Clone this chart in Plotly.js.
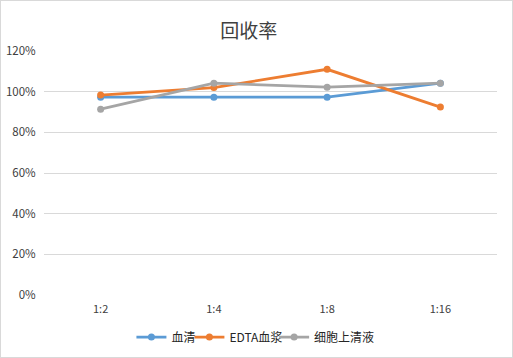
<!DOCTYPE html>
<html><head><meta charset="utf-8">
<script src="https://cdn.plot.ly/plotly-3.0.1.min.js"></script>
<style>html,body{margin:0;padding:0;background:#fff}#c{width:511px;height:356px;border:1px solid #d9d9d9}</style>
</head><body><div id="c"></div>
<script>
const categories = ['1:2','1:4','1:8','1:16'];
const serumVals = [0.973, 0.973, 0.973, 1.042];
const edtaVals = [0.983, 1.02, 1.11, 0.924];
const cellVals = [0.914, 1.042, 1.022, 1.042];
const seriesNames = ['血清','EDTA血浆','细胞上清液'];
const colors = ['#5b9bd5','#ed7d31','#a5a5a5'];
const font = '"Noto Sans CJK SC", "DejaVu Sans", sans-serif';
const legendIds = ['legend','legend2','legend3'];
const data = [serumVals, edtaVals, cellVals].map((v,i)=>({
  x: categories, y: v, name: seriesNames[i], type:'scatter', mode:'lines+markers',
  line:{color:colors[i], width:2.8}, marker:{color:colors[i], size:7},
  legend: legendIds[i]
}));
const legX = [0.193, 0.321, 0.508];
const layout = {
  width:511, height:356,
  margin:{l:43,r:15,t:50,b:62},
  paper_bgcolor:'#fff', plot_bgcolor:'#fff',
  title:{text:'回收率', font:{family:font, size:19, color:'#404040'}, x:0.485, xanchor:'center', y:0.915, yanchor:'middle'},
  xaxis:{type:'category', showgrid:false, zeroline:false, showline:false, ticks:'outside', ticklen:4, tickcolor:'rgba(0,0,0,0)', tickfont:{family:font,size:11,color:'#404040'}, range:[-0.5,3.5], automargin:false},
  yaxis:{range:[0,1.2], dtick:0.2, tickformat:'.0%', gridcolor:'#d9d9d9', gridwidth:1, zeroline:false, showline:false, ticks:'outside', ticklen:5, tickcolor:'rgba(0,0,0,0)', tickfont:{family:font,size:11.5,color:'#404040'}, automargin:false},
  showlegend:true
};
legendIds.forEach((id,i)=>{
  layout[id] = {orientation:'h', x:legX[i], xanchor:'left', xref:'paper', y:0.056, yref:'container', yanchor:'middle', font:{family:font,size:12,color:'#262626'}, itemwidth:30, bgcolor:'rgba(0,0,0,0)'};
});
Plotly.newPlot('c', data, layout, {staticPlot:true});
</script></body></html>
